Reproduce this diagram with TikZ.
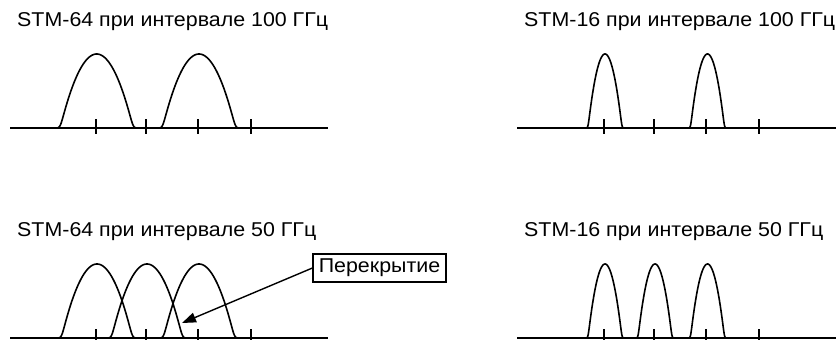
\documentclass[tikz,border=0pt]{standalone}
\usepackage{fontspec}
\setmainfont{Liberation Sans}[FakeStretch=1.07]
\usetikzlibrary{arrows.meta}
\newcommand\drawhump[3]{%
  \draw[curve] plot[domain=-1.25:1.25,samples=121,variable=\u]
    ({#1+#2*\u},{#3-74*(max(1-\u*\u,0)+0.05*ln(1+exp(-abs(1-\u*\u)/0.05)))});}
\newcommand\drawaxis[3]{%
  \draw[axisline] (#1,#3) -- (#2,#3);}
\newcommand\drawticks[2]{%
  \foreach \t in {96,146,198,251} {\draw[tickline] ({#1+\t},{#2-9}) -- ({#1+\t},{#2+6});}}
\begin{document}
\begin{tikzpicture}[x=1pt,y=-1pt,
  curve/.style={line width=1.6pt,line join=round},
  axisline/.style={line width=1.8pt},
  tickline/.style={line width=1.8pt},
  title/.style={anchor=base west,inner sep=0pt,font=\fontsize{20}{22}\selectfont},
  labelbox/.style={draw,line width=1.2pt,inner sep=0pt,minimum width=133pt,minimum height=28pt,font=\fontsize{20}{22}\selectfont},
  pointer/.style={line width=1.4pt,-{Triangle[length=14pt,width=10pt]}}]
\useasboundingbox (0,0) rectangle (836,340);
% titles
\node[title] (t1) at (17,26) {STM-64 при интервале 100 ГГц};
\node[title] (t2) at (524,26) {STM-16 при интервале 100 ГГц};
\node[title] (t3) at (17,236) {STM-64 при интервале 50 ГГц};
\node[title] (t4) at (524,236) {STM-16 при интервале 50 ГГц};
% top-left
\drawaxis{10}{328}{128}
\drawticks{0}{128}
\drawhump{96.7}{36.5}{128}
\drawhump{199}{36.5}{128}
% top-right
\drawaxis{517}{836}{128}
\drawticks{508}{128}
\drawhump{605}{17}{128}
\drawhump{707.5}{17}{128}
% bottom-left
\drawaxis{10}{328}{338}
\drawticks{0}{338}
\drawhump{97}{35.5}{338}
\drawhump{147}{35.5}{338}
\drawhump{199}{35.5}{338}
% bottom-right
\drawaxis{517}{836}{338}
\drawticks{508}{338}
\drawhump{605}{17}{338}
\drawhump{655}{17}{338}
\drawhump{707.5}{17}{338}
% label
\node[labelbox] (ov) at (379.5,268) {Перекрытие};
\coordinate (tip) at (182,323);
\draw[pointer] (ov.west) -- (tip);
\end{tikzpicture}
\end{document}
